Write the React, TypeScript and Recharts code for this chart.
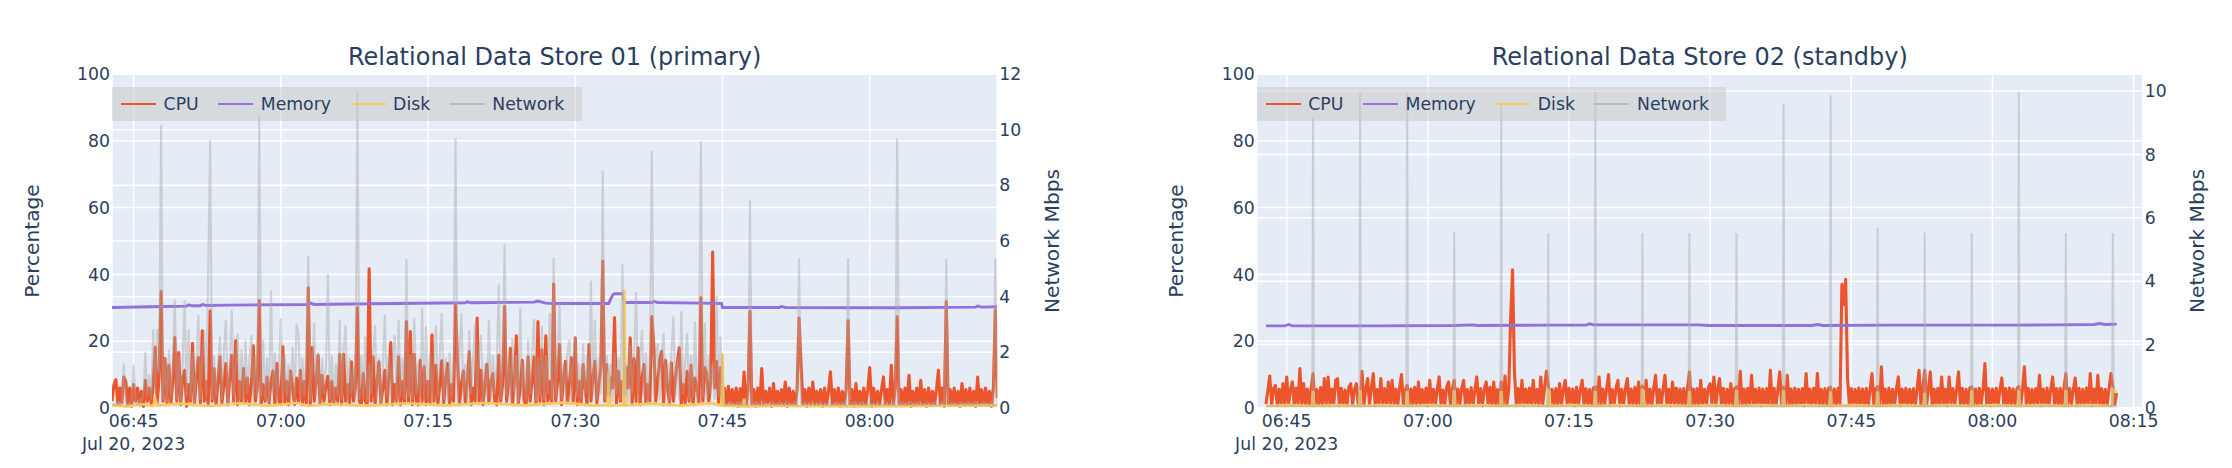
import React from "react";
import { LineChart, Line, XAxis, YAxis, CartesianGrid, Legend } from "recharts";

const FONT = '"DejaVu Sans", Verdana, sans-serif';
const INK = "#2a3f5f";
const T0 = 402.8; // first sample: 06:42:48, in minutes after midnight
const DT = 0.2; // 12-second sampling grid

const timeTicks01 = [405, 420, 435, 450, 465, 480];
const timeTicks02 = [405, 420, 435, 450, 465, 480, 495];
const dateLabel = "Jul 20, 2023";
const pctTicks = [0, 20, 40, 60, 80, 100];
const netTicks01 = [0, 2, 4, 6, 8, 10, 12];
const netTicks02 = [0, 2, 4, 6, 8, 10];
const seriesNames = ["CPU", "Memory", "Disk", "Network"];
const seriesColors = ["#EC552B", "#9370DB", "#F8C95C", "#A9A9A9"];
const titles = ["Relational Data Store 01 (primary)", "Relational Data Store 02 (standby)"];

// ---------- Data Store 01 (primary) ----------
const cpu01 = [
  2, 7, 8.5, 1, 6, 1.5, 9.3, 8, 1, 6, 0.5, 7, 2, 6, 1, 5, 0.5, 8.3, 2, 6, 1, 7, 18.2, 1.5, 9,
  34.9, 2, 14.8, 1, 12.8, 1.5, 8, 21.1, 2, 16.6, 1, 9, 11.3, 0.5, 7, 2, 19.4, 1, 9, 15.1, 1.5, 23.1, 2, 8, 1,
  29.1, 2, 11.8, 1, 8, 15.3, 1.5, 7, 13.3, 1, 9, 15.8, 2, 20.2, 1, 8, 2, 11.8, 1.5, 9, 1, 7, 18.6, 2, 6,
  32.2, 1, 7, 2, 9.3, 1.5, 8, 11.1, 1, 13.3, 2, 1, 18.4, 1.5, 8, 1, 11.1, 6, 1, 9, 2, 11.3, 1, 8, 1.5,
  36, 1, 18.1, 2, 8, 15.8, 1, 9.8, 2, 7, 9.5, 1, 8, 1.5, 6, 2, 16.1, 1, 16.1, 2, 7, 1, 13.8, 2, 6,
  30, 2, 1, 10.3, 2, 1, 41.7, 2, 15.3, 1, 8, 13.8, 1.5, 6, 11.3, 1, 9, 19.6, 1, 7, 2, 15.3, 1, 8, 1.5,
  25.9, 2, 22.9, 1, 16.1, 2, 1, 14.3, 2, 12.3, 1, 8, 1.5, 21.9, 2, 12.8, 1, 7, 14.1, 1.5, 9, 13.3, 1, 7, 2,
  30.9, 14.3, 1, 7, 11.1, 1.5, 8, 16.9, 1, 6, 2, 26.9, 1.5, 11.3, 1, 7, 13.1, 1.5, 8, 10.3, 2, 1, 15.8, 2, 7,
  30.4, 2, 7, 17.9, 1, 8, 21.6, 1.5, 6, 14.3, 2, 1, 15.3, 2, 8, 15.3, 1, 25.9, 2, 17.4, 1, 21.6, 2, 8, 1.5,
  37.1, 2, 8, 19, 1, 9, 14, 1.5, 7, 15, 2, 21, 1, 8, 1.5, 13, 6, 1, 19, 2, 9, 14, 1.5, 7, 12,
  44, 2, 13, 1, 9, 6, 27.1, 1.5, 11, 2, 8, 1, 12, 6, 21, 1.5, 14.8, 2, 18, 1, 9, 13, 1.5, 7, 2,
  27.4, 18.9, 2, 8, 14.3, 17, 1, 14.3, 6, 1.5, 13.5, 2, 9, 13.8, 18, 1, 7, 1.5, 11, 2, 12.8, 1, 9, 6, 1.5,
  33.1, 2, 12, 10.3, 1.5, 8, 46.7, 6, 14, 1.5, 12, 2, 6, 1, 6.5, 0.8, 5.5, 1, 6, 0.5, 5.8, 1.2, 10.8, 0.8, 5,
  28.9, 1, 5.5, 0.5, 6, 1, 11.8, 0.8, 5, 1.5, 6, 0.5, 7.3, 1, 5, 0.8, 5.5, 1.2, 7.8, 0.5, 6, 1, 5, 0.7, 5.5,
  26.9, 13.3, 1, 5.5, 0.5, 6, 1, 7.8, 0.8, 5, 1.2, 5.5, 0.5, 6, 1, 5, 10.8, 0.8, 5.5, 1, 6, 0.5, 5, 1.2, 5.5,
  26.2, 1, 5.5, 0.5, 7.3, 1, 5, 0.8, 6, 1.2, 5.5, 12.1, 0.5, 6, 1, 5, 0.8, 5.5, 9.3, 1, 5.5, 0.7, 12.8, 1, 6,
  27.3, 1, 5.5, 0.8, 6, 1, 9.8, 0.5, 5, 1.2, 6, 0.8, 8.3, 1, 5.5, 0.5, 6, 1, 5, 0.8, 5.5, 11.3, 1, 6, 0.5,
  31.9, 1, 5.5, 0.8, 6, 1, 5, 0.5, 7.3, 1, 5.5, 0.8, 6, 1.2, 5, 0.5, 9.3, 1, 5.5, 0.8, 6, 1, 5, 0.5, 6,
  29.4, 3,
];

const net01 = [
  0.1, 0.15, 0.1, 0.2, 0.1, 0.15, 1.6, 0.2, 0.1, 0.15, 0.3, 1.56, 0.2, 0.15, 0.3, 0.2, 0.5, 2.02, 0.4, 1.2, 0.3, 2.83, 0.5, 2.83, 1.2,
  10.16, 0.3, 1.8, 0.2, 2.1, 0.4, 1.5, 3.9, 0.3, 1.9, 0.2, 1.6, 3.87, 0.4, 2.83, 0.3, 2.0, 0.2, 1.5, 3.35, 0.3, 1.8, 2.8, 0.4, 4.87,
  9.64, 0.3, 1.9, 0.4, 1.5, 2.57, 0.3, 2.0, 3.17, 0.2, 1.6, 3.53, 0.4, 1.5, 2.69, 0.3, 2.1, 0.2, 2.42, 0.5, 1.7, 2.63, 0.3, 1.9, 0.4,
  10.52, 0.4, 2.47, 0.3, 1.8, 0.2, 4.24, 0.5, 2.0, 0.2, 1.5, 3.23, 0.3, 1.9, 0.4, 1.6, 0.3, 2.2, 0.2, 3.03, 2.69, 0.3, 1.8, 0.4, 1.9,
  5.46, 0.3, 1.6, 3.05, 0.4, 2.0, 0.2, 1.8, 0.5, 1.5, 4.81, 0.3, 1.9, 0.2, 1.6, 0.4, 3.17, 0.3, 2.1, 2.99, 0.2, 1.8, 0.5, 1.5, 0.3,
  11.4, 0.3, 1.9, 0.4, 2.57, 0.2, 1.6, 0.5, 2.0, 2.99, 0.3, 1.8, 0.2, 1.5, 3.35, 0.4, 1.9, 0.3, 1.6, 2.63, 0.2, 3.17, 0.4, 1.8, 0.3,
  5.35, 0.4, 1.9, 0.3, 3.23, 0.5, 1.6, 0.2, 3.6, 0.4, 2.93, 0.3, 2.0, 0.2, 1.6, 2.99, 0.4, 1.9, 3.41, 0.3, 1.8, 0.2, 2.0, 0.4, 1.5,
  9.7, 0.3, 1.9, 3.41, 0.4, 1.6, 0.2, 2.8, 0.5, 1.8, 3.05, 0.3, 2.0, 2.63, 0.2, 1.6, 0.4, 3.17, 0.3, 1.9, 0.5, 1.5, 4.44, 0.3, 1.8,
  5.88, 0.4, 1.8, 0.3, 2.5, 0.5, 1.9, 0.2, 3.6, 0.4, 1.6, 0.3, 2.45, 0.5, 2.0, 3.2, 0.2, 1.8, 0.4, 2.95, 0.3, 1.9, 0.5, 3.41, 0.3,
  5.4, 0.4, 1.9, 3.78, 0.3, 1.6, 0.5, 2.0, 2.45, 0.2, 1.8, 2.57, 0.4, 1.6, 0.3, 2.32, 0.5, 1.9, 0.2, 4.57, 0.4, 3.17, 0.3, 1.8, 0.5,
  8.53, 0.3, 1.9, 0.4, 1.6, 0.2, 2.0, 0.5, 1.8, 0.3, 5.17, 0.4, 1.6, 0.2, 2.26, 0.5, 1.9, 4.17, 0.3, 1.8, 2.81, 0.4, 2.0, 0.2, 1.6,
  9.25, 0.4, 1.8, 2.32, 0.3, 1.9, 2.69, 0.5, 1.6, 0.2, 2.0, 3.29, 0.4, 1.8, 0.3, 3.48, 0.5, 1.6, 2.69, 0.3, 1.9, 0.4, 3.11, 0.2, 1.8,
  9.59, 0.4, 3.05, 0.3, 1.9, 0.5, 1.6, 0.3, 4.02, 0.4, 2.57, 0.3, 0.1, 0.15, 0.1, 0.2, 0.1, 0.15, 0.1, 0.2, 0.1, 0.15, 0.1, 0.2, 0.1,
  7.45, 0.15, 0.1, 0.2, 0.1, 0.15, 0.1, 0.2, 0.1, 0.15, 0.1, 0.2, 0.1, 0.15, 0.1, 0.2, 0.1, 0.15, 0.1, 0.2, 0.1, 0.15, 0.1, 0.2, 0.1,
  5.38, 0.15, 0.1, 0.2, 0.1, 0.15, 0.1, 0.2, 0.1, 0.15, 0.1, 0.2, 0.1, 0.15, 0.1, 0.2, 0.1, 0.15, 0.1, 0.2, 0.1, 0.15, 0.1, 0.2, 0.1,
  5.38, 0.15, 0.1, 0.2, 0.1, 0.15, 0.1, 0.2, 0.1, 0.15, 0.1, 0.2, 0.1, 0.15, 0.1, 0.2, 0.1, 0.15, 0.1, 0.2, 0.1, 0.15, 0.1, 0.2, 0.1,
  9.68, 0.15, 0.1, 0.2, 0.1, 0.15, 0.1, 0.2, 0.1, 0.15, 0.1, 0.2, 0.1, 0.15, 0.1, 0.2, 0.1, 0.15, 0.1, 0.2, 0.1, 0.15, 0.1, 0.2, 0.1,
  5.35, 0.15, 0.1, 0.2, 0.1, 0.15, 0.1, 0.2, 0.1, 0.15, 0.1, 0.2, 0.1, 0.15, 0.1, 0.2, 0.1, 0.15, 0.1, 0.2, 0.1, 0.15, 0.1, 0.2, 0.1,
  5.38, 0.1,
];

// [sample index, value]
const mem01: [number, number][] = [
  [0, 30.1], [20, 30.3], [38, 30.5], [39, 30.9], [41, 30.6], [45, 30.6], [46, 31.0], [48, 30.7], [60, 30.8],
  [100, 31.0], [101, 31.4], [103, 31.0], [130, 31.2], [131, 31.5], [133, 31.2], [180, 31.5], [181, 31.8], [183, 31.5],
  [215, 31.7], [217, 32.0], [219, 31.7], [221, 31.4], [225, 31.3], [253, 31.3], [255, 33.8], [256, 34.2], [260.5, 34.2],
  [261, 31.6], [275, 31.6], [276, 31.9], [278, 31.6], [300, 31.4], [310.5, 31.3], [311, 30.1], [340, 30.1], [341, 30.4],
  [343, 30.1], [400, 30.0], [440, 30.2], [441, 30.5], [443, 30.2], [451, 30.3],
];

const disk01: [number, number][] = [
  [0, 0.8], [8, 0.5], [15, 1.2], [21, 0.6], [22, 2.8], [23, 0.7], [35, 1.3], [50, 0.6], [65, 1.4], [80, 0.7], [95, 1.5],
  [100, 0.6], [110, 1.2], [130, 0.7], [150, 1.4], [170, 0.8], [190, 1.5], [210, 0.8], [230, 1.6], [245, 0.7], [252.5, 0.9],
  [253, 11.1], [253.5, 0.8], [260.5, 0.9], [261, 35.5], [261.5, 0.8], [275, 1.3], [290, 0.7], [305, 1.5], [310.5, 0.8], [311, 16.3],
  [311.5, 0.7], [321.5, 0.5], [322, 2.8], [322.5, 0.5], [340, 0.6], [380, 0.5], [420, 0.6], [451, 0.8],
];

// ---------- Data Store 02 (standby) ----------
const cpu02 = [
  1.2, 5.4, 9.6, 0.9, 5.8, 6.8, 0.7, 5.6, 1.3, 7.3, 0.8, 9.3, 1.1, 5.5, 7.8, 0.9, 6.0, 1.2, 11.8, 0.7, 7.3, 1.1, 5.7, 0.8, 5.9,
  10.3, 1.0, 5.5, 1.2, 6.1, 0.7, 8.8, 1.3, 9.3, 0.9, 5.7, 1.1, 8.3, 8.8, 0.8, 5.9, 1.2, 5.4, 0.7, 6.2, 7.3, 1.0, 5.6, 7.3, 1.3,
  1.1, 11.0, 0.8, 5.6, 8.8, 1.0, 6.0, 10.3, 0.7, 5.5, 1.3, 8.8, 0.9, 5.8, 1.1, 7.8, 0.8, 8.3, 1.2, 5.7, 0.9, 6.1, 10.0, 1.0, 5.4,
  6.8, 0.9, 5.7, 1.2, 6.2, 0.8, 7.8, 1.1, 5.5, 1.0, 6.0, 0.7, 8.3, 1.3, 5.6, 1.0, 5.8, 9.3, 0.8, 5.4, 1.2, 6.3, 7.8, 0.9, 5.8,
  8.3, 1.0, 5.7, 1.1, 5.9, 8.3, 0.8, 5.5, 1.3, 6.1, 0.9, 5.6, 9.3, 1.1, 5.8, 0.7, 5.7, 7.8, 1.2, 6.2, 1.0, 7.8, 0.8, 5.5, 1.1,
  7.8, 1.0, 9.6, 1.1, 5.6, 27, 41.4, 11.0, 0.9, 5.8, 1.2, 8.3, 0.8, 5.7, 1.1, 6.0, 1.0, 8.3, 1.3, 5.5, 0.8, 9.3, 1.1, 5.9, 11.0,
  6.8, 0.9, 5.6, 1.2, 5.8, 0.8, 7.3, 1.1, 5.5, 8.3, 1.0, 5.9, 1.3, 5.7, 0.7, 6.2, 1.1, 5.4, 8.3, 0.9, 5.8, 1.2, 5.6, 0.8, 6.0,
  6.3, 1.1, 9.3, 0.8, 5.7, 1.3, 5.8, 10.0, 1.0, 5.5, 1.1, 6.0, 8.3, 0.7, 5.6, 1.2, 5.9, 8.8, 0.9, 5.7, 1.1, 6.2, 0.8, 7.8, 1.0,
  6.6, 1.0, 8.3, 1.1, 5.7, 0.8, 5.9, 9.8, 1.3, 5.5, 0.9, 5.8, 9.8, 1.1, 5.6, 0.7, 7.8, 1.2, 6.0, 1.0, 5.7, 1.1, 5.8, 0.8, 6.1,
  10.8, 0.9, 5.7, 1.2, 5.8, 0.8, 8.3, 1.1, 5.6, 1.0, 6.0, 7.3, 1.3, 9.3, 0.7, 5.7, 8.8, 1.1, 5.9, 0.9, 5.6, 1.2, 7.3, 0.8, 5.8,
  6.4, 1.1, 11.0, 1.0, 5.7, 0.8, 5.9, 1.3, 9.8, 0.9, 5.6, 1.1, 6.0, 0.7, 5.7, 1.2, 5.8, 1.0, 11.3, 0.8, 5.9, 1.1, 5.5, 10.8, 1.0,
  6.3, 0.9, 9.8, 1.1, 5.7, 0.8, 6.0, 1.2, 5.6, 1.0, 5.8, 0.7, 10.3, 1.1, 5.7, 0.9, 5.9, 1.3, 10.3, 0.8, 5.6, 1.1, 5.8, 1.0, 6.0,
  6.2, 1.1, 5.7, 0.8, 5.9, 1.3, 37.0, 31.0, 38.5, 8.8, 0.9, 5.8, 1.2, 5.6, 0.8, 6.0, 1.1, 5.7, 1.0, 5.9, 0.7, 5.5, 10.3, 1.1, 5.8,
  6.4, 0.9, 12.3, 1.1, 5.7, 0.8, 6.0, 1.2, 5.6, 1.0, 5.8, 9.3, 0.7, 5.7, 1.1, 5.9, 0.9, 5.6, 1.3, 5.8, 0.8, 6.0, 11.3, 1.0, 5.7,
  11.3, 1.0, 5.8, 10.8, 0.8, 5.7, 1.2, 5.9, 0.9, 9.3, 1.1, 5.6, 0.7, 9.3, 1.3, 5.8, 1.0, 5.7, 10.8, 0.8, 5.9, 1.1, 5.6, 0.9, 6.0,
  6.3, 1.1, 5.7, 0.8, 5.9, 1.2, 5.6, 13.3, 1.0, 5.8, 0.7, 5.7, 1.3, 5.9, 0.9, 5.6, 9.0, 1.1, 5.8, 0.8, 6.0, 1.2, 5.7, 1.0, 5.8,
  6.4, 0.9, 5.7, 12.3, 1.1, 5.9, 0.8, 5.6, 1.3, 5.8, 1.0, 9.8, 0.7, 5.7, 1.2, 6.0, 0.9, 5.6, 9.3, 1.1, 5.8, 0.8, 5.9, 1.0, 5.7,
  10.3, 1.0, 5.8, 1.2, 5.7, 9.0, 0.8, 5.9, 1.1, 5.6, 0.9, 6.0, 1.3, 10.3, 0.7, 5.7, 1.1, 9.8, 1.0, 5.8, 0.8, 5.6, 1.2, 5.9, 10.3,
  6.3, 1.1, 4.5,
];

const mem02: [number, number][] = [
  [0, 24.6], [10, 24.6], [12, 25.0], [14, 24.6], [40, 24.6], [60, 24.6], [100, 24.7], [110, 24.9], [112, 24.7],
  [150, 24.8], [170, 24.8], [172, 25.2], [174, 24.9], [230, 24.9], [235, 24.7], [290, 24.7], [293, 25.0], [296, 24.7],
  [330, 24.8], [360, 24.8], [400, 24.8], [420, 24.9], [440, 25.0], [443, 25.3], [446, 25.0], [452, 25.1],
];

// narrow disk bumps at each periodic job: [index, value]
const disk02: [number, number][] = [
  [0, 0.6], [12, 0.9], [24.5, 0.6], [24.8, 4.8], [25.2, 4.8], [25.5, 0.6], [37, 0.9],
  [49.5, 0.6], [49.8, 5.0], [50.2, 5.0], [50.5, 0.6], [62, 0.9],
  [74.5, 0.6], [74.8, 4.7], [75.2, 4.7], [75.5, 0.6], [87, 0.9],
  [99.5, 0.6], [99.8, 5.0], [100.2, 5.0], [100.5, 0.6], [112, 0.9],
  [124.5, 0.6], [124.8, 4.7], [125.2, 4.7], [125.5, 0.6], [137, 0.9],
  [149.5, 0.6], [149.8, 5.4], [150.6, 5.0], [151, 0.6], [162, 0.9],
  [174.5, 0.6], [174.8, 4.8], [175.2, 4.8], [175.5, 0.6], [187, 0.9],
  [199.5, 0.6], [199.8, 5.4], [200.6, 5.2], [201, 0.6], [212, 0.9],
  [224.5, 0.6], [224.8, 4.7], [225.2, 4.7], [225.5, 0.6], [237, 0.9],
  [249.5, 0.6], [249.8, 5.0], [250.2, 5.0], [250.5, 0.6], [262, 0.9],
  [274.5, 0.6], [274.8, 5.0], [275.2, 5.0], [275.5, 0.6], [287, 0.9],
  [299.5, 0.6], [299.8, 4.6], [300.2, 4.6], [300.5, 0.6], [312, 0.9],
  [324.5, 0.6], [324.8, 4.6], [325.2, 4.6], [325.5, 0.6], [337, 0.9],
  [349.5, 0.6], [349.8, 4.2], [350.2, 4.2], [350.5, 0.6], [362, 0.9],
  [374.5, 0.6], [374.8, 5.0], [375.2, 5.0], [375.5, 0.6], [387, 0.9],
  [399.5, 0.6], [399.8, 5.0], [400.2, 5.0], [400.5, 0.6], [412, 0.9],
  [424.5, 0.6], [424.8, 5.0], [425.2, 5.0], [425.5, 0.6], [437, 0.9],
  [449.5, 0.6], [449.8, 5.6], [451, 5.0], [452, 4.5],
];

// narrow network bursts every five minutes: [index, value]
const net02: [number, number][] = [
  [0, 0.05], [24.6, 0.05], [25, 9.16], [25.4, 0.05], [49.6, 0.05], [50, 9.93], [50.4, 0.05],
  [74.6, 0.05], [75, 9.93], [75.4, 0.05], [99.6, 0.05], [100, 5.56], [100.4, 0.05],
  [124.6, 0.05], [125, 9.6], [125.4, 0.05], [149.6, 0.05], [150, 5.52], [150.4, 0.05],
  [174.6, 0.05], [175, 9.97], [175.4, 0.05], [199.6, 0.05], [200, 5.52], [200.4, 0.05],
  [224.6, 0.05], [225, 5.52], [225.4, 0.05], [249.6, 0.05], [250, 5.52], [250.4, 0.05],
  [274.6, 0.05], [275, 9.59], [275.4, 0.05], [299.6, 0.05], [300, 9.87], [300.4, 0.05],
  [324.6, 0.05], [325, 5.68], [325.4, 0.05], [349.6, 0.05], [350, 5.54], [350.4, 0.05],
  [374.6, 0.05], [375, 5.52], [375.4, 0.05], [399.6, 0.05], [400, 9.96], [400.4, 0.05],
  [424.6, 0.05], [425, 5.52], [425.4, 0.05], [449.6, 0.05], [450, 5.52], [450.4, 0.05],
  [452, 0.05],
];

// ---------- helpers ----------
type Pt = { t: number; v: number };
const dense = (arr: number[]): Pt[] => arr.map((v, i) => ({ t: T0 + i * DT, v }));
const sparse = (pairs: [number, number][]): Pt[] => pairs.map(([i, v]) => ({ t: T0 + i * DT, v }));
const pad2 = (n: number) => String(n).padStart(2, "0");
const fmtTime = (m: number) => `${pad2(Math.floor(m / 60))}:${pad2(Math.round(m % 60))}`;

const TICK_FS = 17.28;

const TimeTick = (props: any) => {
  const { x, y, payload, index } = props;
  return (
    <g>
      <text x={x} y={y + 19} textAnchor="middle" fill={INK} fontSize={TICK_FS} fontFamily={FONT}>
        {fmtTime(payload.value)}
      </text>
      {index === 0 ? (
        <text x={x} y={y + 42} textAnchor="middle" fill={INK} fontSize={TICK_FS} fontFamily={FONT}>
          {dateLabel}
        </text>
      ) : null}
    </g>
  );
};

const LegendBox = () => (
  <div
    style={{
      display: "flex",
      alignItems: "center",
      width: 469.4,
      height: 33.4,
      boxSizing: "border-box",
      paddingLeft: 8.7,
      background: "rgba(200,200,200,0.5)",
      fontFamily: FONT,
      fontSize: TICK_FS,
      color: INK,
      whiteSpace: "nowrap",
    }}
  >
    {seriesNames.map((n, k) => (
      <div key={n} style={{ display: "flex", alignItems: "center", marginRight: 19.5 }}>
        <div
          style={{
            width: 35,
            height: 2.6,
            marginRight: 7.6,
            background: seriesColors[k],
            opacity: k === 3 ? 0.6 : 1,
          }}
        />
        <span>{n}</span>
      </div>
    ))}
  </div>
);

type PanelProps = {
  title: string;
  cpu: Pt[];
  mem: Pt[];
  disk: Pt[];
  net: Pt[];
  xDomain: [number, number];
  xTicks: number[];
  netMax: number;
  netTicks: number[];
  leftW: number;
  rightW: number;
};

const W = 1116;
const H = 468;
const TOP = 74;
const BOTTOM = 408;

function Panel(p: PanelProps) {
  const plotL = p.leftW;
  const plotR = W - p.rightW;
  const cx = (plotL + plotR) / 2;
  const cy = (TOP + BOTTOM) / 2;
  return (
    <div style={{ position: "relative", width: W, height: H, fontFamily: FONT }}>
      <LineChart width={W} height={H} margin={{ top: TOP, right: 0, bottom: 0, left: 0 }}>
        <CartesianGrid xAxisId="t" yAxisId="pct" stroke="#ffffff" strokeWidth={1.5} fill="#E5ECF6" fillOpacity={1} />
        <CartesianGrid xAxisId="t" yAxisId="net" vertical={false} stroke="#ffffff" strokeWidth={1.5} />
        <XAxis
          xAxisId="t"
          type="number"
          dataKey="t"
          domain={p.xDomain}
          ticks={p.xTicks}
          allowDataOverflow
          interval={0}
          height={H - BOTTOM}
          axisLine={false}
          tickLine={false}
          tickSize={0}
          tickMargin={0}
          tick={(tp: any) => <TimeTick {...tp} />}
        />
        <YAxis
          yAxisId="pct"
          orientation="left"
          type="number"
          domain={[0, 100]}
          ticks={pctTicks}
          allowDataOverflow
          interval={0}
          width={p.leftW}
          axisLine={false}
          tickLine={false}
          tickSize={0}
          tickMargin={2}
          tick={{ fill: INK, fontSize: TICK_FS, fontFamily: FONT }}
        />
        <YAxis
          yAxisId="net"
          orientation="right"
          type="number"
          domain={[0, p.netMax]}
          ticks={p.netTicks}
          allowDataOverflow
          interval={0}
          width={p.rightW}
          axisLine={false}
          tickLine={false}
          tickSize={0}
          tickMargin={2}
          tick={{ fill: INK, fontSize: TICK_FS, fontFamily: FONT }}
        />
        <Line xAxisId="t" yAxisId="pct" data={p.cpu} dataKey="v" name={seriesNames[0]} type="linear"
          stroke={seriesColors[0]} strokeWidth={3.1} strokeLinejoin="round" dot={false} activeDot={false} isAnimationActive={false} />
        <Line xAxisId="t" yAxisId="pct" data={p.mem} dataKey="v" name={seriesNames[1]} type="linear"
          stroke={seriesColors[1]} strokeWidth={2.9} dot={false} activeDot={false} isAnimationActive={false} />
        <Line xAxisId="t" yAxisId="pct" data={p.disk} dataKey="v" name={seriesNames[2]} type="linear"
          stroke={seriesColors[2]} strokeWidth={2.6} dot={false} activeDot={false} isAnimationActive={false} />
        <Line xAxisId="t" yAxisId="net" data={p.net} dataKey="v" name={seriesNames[3]} type="linear"
          stroke={seriesColors[3]} strokeOpacity={0.45} strokeWidth={2.1} dot={false} activeDot={false} isAnimationActive={false} />
        <Legend
          layout="horizontal"
          align="center"
          verticalAlign="middle"
          content={() => <LegendBox />}
          wrapperStyle={{ position: "absolute", top: 87.3, left: plotL + 0.3, width: 469.4, height: 33.4, margin: 0, padding: 0 }}
        />
      </LineChart>
      <svg width={W} height={H} style={{ position: "absolute", left: 0, top: 0, pointerEvents: "none" }}>
        <text x={cx} y={65} textAnchor="middle" fill={INK} fontSize={24} fontFamily={FONT}>
          {p.title}
        </text>
        <text
          transform={`translate(${plotL - 80.3},${cy}) rotate(-90)`}
          textAnchor="middle"
          dominantBaseline="central"
          fill={INK}
          fontSize={20.16}
          fontFamily={FONT}
        >
          Percentage
        </text>
        <text
          transform={`translate(${plotR + 54.4},${cy}) rotate(-90)`}
          textAnchor="middle"
          dominantBaseline="central"
          fill={INK}
          fontSize={20.16}
          fontFamily={FONT}
        >
          Network Mbps
        </text>
      </svg>
    </div>
  );
}

export default function App() {
  return (
    <div style={{ width: 2232, height: 468, display: "flex", background: "#ffffff", overflow: "hidden" }}>
      <style>{"html,body{margin:0;padding:0;background:#fff;}"}</style>
      <Panel
        title={titles[0]}
        cpu={dense(cpu01)}
        mem={sparse(mem01)}
        disk={sparse(disk01)}
        net={dense(net01)}
        xDomain={[402.8, 493.0]}
        xTicks={timeTicks01}
        netMax={12}
        netTicks={netTicks01}
        leftW={112}
        rightW={118.7}
      />
      <Panel
        title={titles[1]}
        cpu={dense(cpu02)}
        mem={sparse(mem02)}
        disk={sparse(disk02)}
        net={sparse(net02)}
        xDomain={[401.81, 495.98]}
        xTicks={timeTicks02}
        netMax={10.54}
        netTicks={netTicks02}
        leftW={140.7}
        rightW={89.2}
      />
    </div>
  );
}
